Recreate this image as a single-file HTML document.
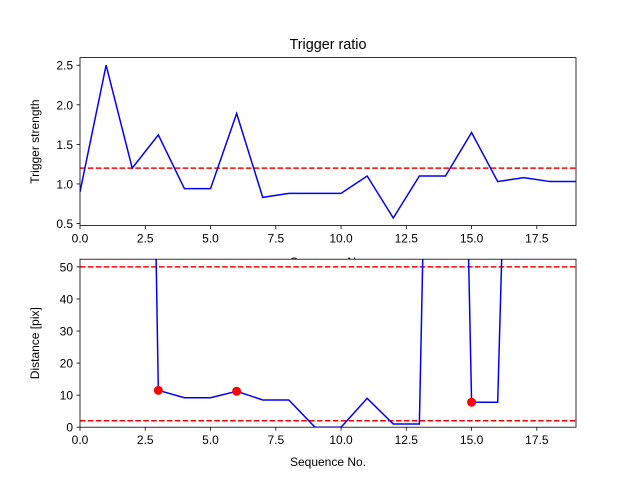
<!DOCTYPE html>
<html><head><meta charset="utf-8"><style>body{margin:0;background:#fff}svg{display:block;font-family:"Liberation Sans","DejaVu Sans",sans-serif}</style></head>
<body>
<svg id="fig" width="640" height="480" viewBox="0 0 640 480"></svg>
<script>
const seq = [0,1,2,3,4,5,6,7,8,9,10,11,12,13,14,15,16,17,18,19];
const strength = [0.9,2.5,1.2,1.62,0.94,0.94,1.89,0.83,0.88,0.88,0.88,1.1,0.57,1.1,1.1,1.65,1.03,1.08,1.03,1.03];
const strengthThreshold = [1.2];
const distance = [500,500,500,11.5,9.2,9.2,11.2,8.5,8.5,0,0,9,1,1,400,7.8,7.8,300,300,300];
const distanceThresholds = [50,2];
const markedIdx = [3,6,15];
const xTicks = [0,2.5,5,7.5,10,12.5,15,17.5];
const xTickLabels = ["0.0","2.5","5.0","7.5","10.0","12.5","15.0","17.5"];
const yTicksTop = [0.5,1.0,1.5,2.0,2.5];
const yTickLabelsTop = ["0.5","1.0","1.5","2.0","2.5"];
const yTicksBot = [0,10,20,30,40,50];
const yTickLabelsBot = ["0","10","20","30","40","50"];

const NS="http://www.w3.org/2000/svg";
const svg=document.getElementById('fig');
function mk(t,a,p){const e=document.createElementNS(NS,t);for(const k in a)e.setAttribute(k,a[k]);(p||svg).appendChild(e);return e;}
const L=80,R=576;
function drawAxes(name,top,bot,ymin,ymax,ys,yt,ytl,ylabel,xlabelY){
  const g=mk('g',{});
  
  
  const xs=v=>L+(v-0)/(19-0)*(R-L);
  const yy=v=>bot-(v-ymin)/(ymax-ymin)*(bot-top);
  mk('rect',{x:L,y:top,width:R-L,height:bot-top,fill:'#fff'},g);
  const cid='clip-'+name;
  const cp=mk('clipPath',{id:cid},g);mk('rect',{x:L,y:top,width:R-L,height:bot-top},cp);
  const pg=mk('g',{'clip-path':'url(#'+cid+')'},g);
  ys.thr.forEach(t=>{const l=mk('line',{x1:L,x2:R,y1:yy(t),y2:yy(t),stroke:'#ff0000','stroke-width':1.5,'stroke-dasharray':'5.5,2.4'},pg);
    
    });
  const pl=mk('polyline',{points:seq.map((x,i)=>xs(x)+','+yy(ys.data[i])).join(' '),fill:'none',stroke:'#0000ff','stroke-width':1.5},pg);
  
  
  (ys.marks||[]).forEach(i=>{const c=mk('circle',{cx:xs(seq[i]),cy:yy(ys.data[i]),r:4.5,fill:'#ff0000'},pg);
    
    });
  mk('rect',{x:L,y:top,width:R-L,height:bot-top,fill:'none',stroke:'#000','stroke-width':0.8},g);
  xTicks.forEach((t,i)=>{mk('line',{x1:xs(t),x2:xs(t),y1:bot,y2:bot+3.5,stroke:'#000','stroke-width':0.8},g);
    const tx=mk('text',{x:xs(t),y:bot+17,'font-size':12,'text-anchor':'middle',fill:'#000'},g);tx.textContent=xTickLabels[i];
    
    });
  yt.forEach((t,i)=>{mk('line',{x1:L,x2:L-3.5,y1:yy(t),y2:yy(t),stroke:'#000','stroke-width':0.8},g);
    const tx=mk('text',{x:L-7,y:yy(t)+4.5,'font-size':12,'text-anchor':'end',fill:'#000'},g);tx.textContent=ytl[i];
    
    });
  const yl=mk('text',{x:0,y:0,'font-size':12,'text-anchor':'middle',transform:`translate(${L-41},${(top+bot)/2}) rotate(-90)`},g);yl.textContent=ylabel;
  
  
  const xl=mk('text',{x:(L+R)/2,y:xlabelY,'font-size':12,'text-anchor':'middle'},g);xl.textContent='Sequence No.';
  
  
  return g;
}
const title=mk('text',{x:328,y:49,'font-size':14.4,'text-anchor':'middle'});title.textContent='Trigger ratio';


drawAxes('top-axes',57.6,225.6,0.4735,2.5965,{data:strength,thr:strengthThreshold},yTicksTop,yTicksTop.map((_,i)=>yTickLabelsTop[i]),'Trigger strength',266);
drawAxes('bottom-axes',259.2,427.2,0,52.4,{data:distance,thr:distanceThresholds,marks:markedIdx},yTicksBot,yTickLabelsBot,'Distance [pix]',466);
</script>
</body></html>
